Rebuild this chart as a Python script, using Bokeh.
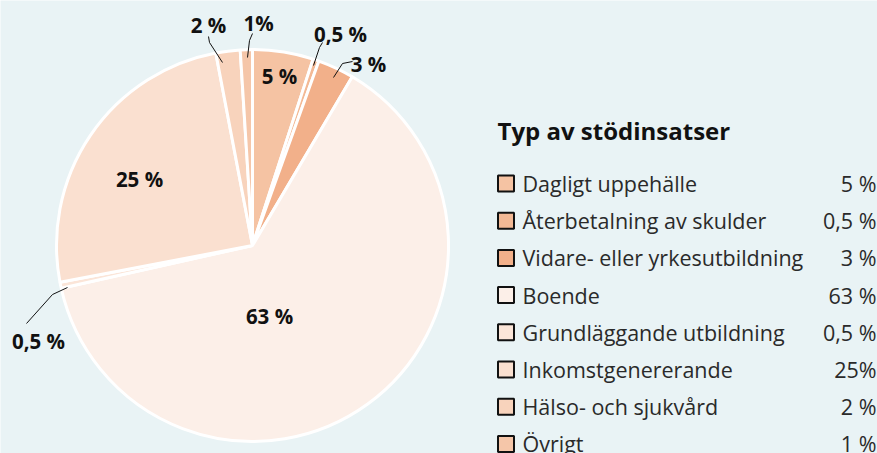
import math
from bokeh.plotting import figure
from bokeh.models import Range1d
from bokeh.core.properties import value
from bokeh.embed import file_html
from bokeh.resources import INLINE

# ---- data ----
categories = ["Dagligt uppehälle", "Återbetalning av skulder", "Vidare- eller yrkesutbildning",
              "Boende", "Grundläggande utbildning", "Inkomstgenererande",
              "Hälso- och sjukvård", "Övrigt"]
shares = [5, 0.5, 3, 63, 0.5, 25, 2, 1]
legend_values = ["5 %", "0,5 %", "3 %", "63 %", "0,5 %", "25%", "2 %", "1 %"]
slice_labels = ["5 %", "0,5 %", "3 %", "63 %", "0,5 %", "25 %", "2 %", "1%"]
colors = ["#f5c3a3", "#f3b995", "#f2b08a", "#fcefe8", "#fbe5d8", "#fae0d0", "#f8d3bc", "#f5c6a9"]

BG = "#e9f3f5"
W, H = 877, 453
FONT = "Open Sans"

def Y(y):
    return H - y

p = figure(width=W, height=H, x_range=Range1d(0, W), y_range=Range1d(0, H),
           output_backend="svg", toolbar_location=None, min_border=0)
p.axis.visible = False
p.grid.visible = False
p.outline_line_color = None
p.background_fill_color = BG
p.border_fill_color = BG

cx, cy, R = 252, 245, 196
total = sum(shares)
starts, ends = [], []
cum = 0.0
for v in shares:
    starts.append(math.radians(90 - cum / total * 360))
    ends.append(math.radians(90 - (cum + v) / total * 360))
    cum += v

p.wedge(x=[cx] * len(shares), y=[Y(cy)] * len(shares), radius=R,
        start_angle=starts, end_angle=ends, direction="clock",
        fill_color=colors, line_color="white", line_width=3)

# slice labels: (x, y) in pixel space
label_pos = [(279, 75), (340, 33), (368, 63), (269, 315), (38, 340), (139, 178), (208, 24), (258, 22)]
p.text(x=[lp[0] for lp in label_pos], y=[Y(lp[1]) for lp in label_pos], text=slice_labels,
       text_align="center", text_baseline="middle", text_font=value(FONT),
       text_font_style="bold", text_font_size="20.5px", text_color="#111111")

# leader lines
leaders = [
    [(208, 36), (209, 42), (222, 62)],
    [(252, 33), (249, 40), (247, 57)],
    [(322, 42), (319, 47), (313, 65)],
    [(352, 61), (342, 63), (333, 77)],
    [(26, 323), (52, 294), (67, 287)],
]
p.multi_line(xs=[[q[0] for q in l] for l in leaders], ys=[[Y(q[1]) for q in l] for l in leaders],
             line_color="#111111", line_width=1)

# legend
p.text(x=[497], y=[Y(130)], text=["Typ av stödinsatser"], text_align="left", text_baseline="middle",
       text_font=value(FONT), text_font_style="bold", text_font_size="24px", text_color="#111111")
ly = [183 + i * 37.2 for i in range(len(categories))]
p.rect(x=[505.5] * len(categories), y=[Y(v) for v in ly], width=16, height=16,
       width_units="screen", height_units="screen",
       fill_color=colors, line_color="#111111", line_width=2)
p.text(x=[522] * len(categories), y=[Y(v) for v in ly], text=categories, text_align="left",
       text_baseline="middle", text_font=value(FONT), text_font_size="21.5px", text_color="#2a2a2a")
p.text(x=[876] * len(categories), y=[Y(v) for v in ly], text=legend_values, text_align="right",
       text_baseline="middle", text_font=value(FONT), text_font_size="21.5px", text_color="#2a2a2a")

open("out.html", "w").write(file_html(p, INLINE))
